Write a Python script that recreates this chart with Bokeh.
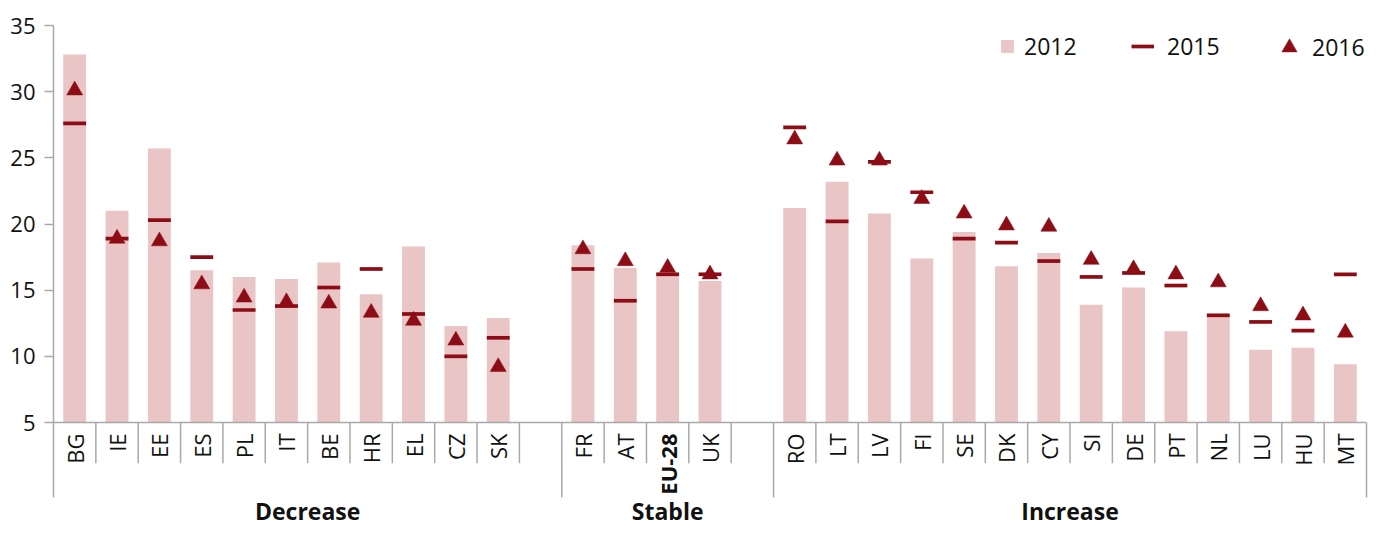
import numpy as np
from bokeh.plotting import figure
from bokeh.models import (ColumnDataSource, FactorRange, Range1d, LinearAxis, FixedTicker,
                          Legend, LegendItem)
from bokeh.core.properties import value
from bokeh.embed import file_html
from bokeh.resources import INLINE

# ---------------- data ----------------
groups = ["Decrease", "Stable", "Increase"]
decrease = ["BG", "IE", "EE", "ES", "PL", "IT", "BE", "HR", "EL", "CZ", "SK"]
stable = ["FR", "AT", "EU-28", "UK"]
increase = ["RO", "LT", "LV", "FI", "SE", "DK", "CY", "SI", "DE", "PT", "NL", "LU", "HU", "MT"]

v2012 = [32.8, 21.0, 25.7, 16.5, 16.0, 15.85, 17.1, 14.7, 18.3, 12.3, 12.9,
         18.4, 16.7, 16.2, 15.7,
         21.2, 23.2, 20.8, 17.4, 19.4, 16.8, 17.8, 13.9, 15.2, 11.9, 13.1, 10.5, 10.65, 9.4]
v2015 = [27.6, 18.9, 20.3, 17.5, 13.5, 13.8, 15.2, 16.6, 13.2, 10.0, 11.4,
         16.6, 14.2, 16.2, 16.2,
         27.3, 20.2, 24.7, 22.4, 18.9, 18.6, 17.2, 16.0, 16.3, 15.35, 13.1, 12.6, 11.95, 16.2]
v2016 = [30.1, 18.9, 18.7, 15.45, 14.45, 14.1, 14.0, 13.3, 12.7, 11.2, 9.2,
         18.1, 17.2, 16.7, 16.2,
         26.4, 24.8, 24.8, 21.9, 20.8, 19.9, 19.8, 17.3, 16.6, 16.2, 15.6, 13.8, 13.1, 11.8]
y_ticks = [5, 10, 15, 20, 25, 30, 35]
series_labels = ["2012", "2015", "2016"]

# ---------------- styling / layout ----------------
PINK = "#e9c6c5"
RED = "#8c0d16"
GRAY = "#a9a9a9"
TXT = "#111111"
FONT = "Open Sans"

W, H = 1368, 525
TOP, LEFT, RIGHT = 25, 53, 2
PX_PER_UNIT = 397 / 30.0
Y_END = 35
Y_START = Y_END - (H - TOP) / PX_PER_UNIT
BASE = 5

def px(n):
    return n / PX_PER_UNIT

group_members = [decrease + [" "], stable + ["  "], increase]
factors = [f for g in group_members for f in g]
countries = decrease + stable + increase

x_range = FactorRange(factors=factors, range_padding=0, factor_padding=0)
p = figure(width=W, height=H, x_range=x_range, y_range=Range1d(Y_START, Y_END),
           x_axis_location=None, y_axis_location=None,
           output_backend="svg", toolbar_location=None,
           min_border_top=TOP, min_border_left=LEFT, min_border_right=RIGHT,
           min_border_bottom=0, outline_line_color=None, background_fill_color="white")
p.grid.visible = False

BAR_W = 0.54
src = ColumnDataSource(dict(
    country=countries, v2012=v2012, v2015=v2015, v2016=v2016,
    x0=[(c, -BAR_W / 2) for c in countries],
    x1=[(c, BAR_W / 2) for c in countries],
    style=["bold" if c == "EU-28" else "normal" for c in countries],
))

r_bar = p.vbar(x="country", top="v2012", bottom=BASE, width=BAR_W, source=src,
               fill_color=PINK, line_color=None)
r_dash = p.segment(x0="x0", x1="x1", y0="v2015", y1="v2015", source=src,
                   line_color=RED, line_width=3.7)
r_tri = p.scatter(x="country", y="v2016", source=src, marker="triangle", size=16,
                  fill_color=RED, line_color=RED, line_width=0.5)

# horizontal base line
p.segment(x0=[(factors[0], -0.5)], x1=[(factors[-1], 0.5)], y0=[BASE], y1=[BASE],
          line_color=GRAY, line_width=1.5)

# separators between categories (long ones at group boundaries)
LONG = 75
SHORT = 40.7
group_starts = {g[0] for g in group_members}
sx, sy1 = [], []
for f in factors:
    if f == factors[0]:
        continue
    sx.append((f, -0.5))
    sy1.append(BASE - px(LONG) if f in group_starts else BASE - px(SHORT))
p.segment(x0=sx, x1=sx, y0=[BASE] * len(sx), y1=sy1, line_color=GRAY, line_width=1.5)

# country labels (vertical)
p.text(x="country", y=BASE, text="country", source=src, angle=np.pi / 2,
       y_offset=11, text_align="right", text_baseline="middle",
       text_font=value(FONT), text_font_size=value("22px"), text_font_style="style",
       text_color=TXT)

# group labels
gx = [(g[0], -0.5 + len(g) / 2.0) for g in group_members]
p.text(x=gx, y=[BASE - px(88)] * 3, text=groups, text_align="center",
       text_baseline="middle", text_font=value(FONT), text_font_size=value("23px"),
       text_font_style="bold", text_color=TXT)

# y axis (line continues down as the first long separator)
yax = LinearAxis(bounds=(BASE - px(LONG), Y_END), ticker=FixedTicker(ticks=y_ticks),
                 axis_line_color=GRAY, axis_line_width=1.5,
                 major_tick_line_color=GRAY, major_tick_line_width=1.5,
                 major_tick_out=9, major_tick_in=0, minor_tick_line_color=None,
                 major_label_standoff=9, major_label_text_font=FONT,
                 major_label_text_font_size="22px", major_label_text_color=TXT)
p.add_layout(yax, "left")

# right closing line of the category axis
rax = LinearAxis(bounds=(BASE - px(LONG), BASE), ticker=FixedTicker(ticks=[]),
                 axis_line_color=GRAY, axis_line_width=1.5,
                 major_tick_line_color=None, minor_tick_line_color=None,
                 major_label_text_font_size="0px", major_label_standoff=0)
p.add_layout(rax, "right")

# legends
frame_h = H - TOP
def add_legend(label, r, gw, gh, standoff, left_px, center_y_px, row_h):
    lg = Legend(items=[LegendItem(label=label, renderers=[r])],
                location=(left_px - LEFT, frame_h - (center_y_px - TOP) - row_h / 2),
                orientation="horizontal", glyph_width=gw, glyph_height=gh,
                label_standoff=standoff, padding=0, margin=0, spacing=0,
                border_line_color=None, background_fill_alpha=0,
                label_text_font=FONT, label_text_font_size="23px",
                label_text_color=TXT)
    p.add_layout(lg)

add_legend(series_labels[0], r_bar, 16, 16, 9, 999, 47, 30)
add_legend(series_labels[1], r_dash, 23, 16, 13, 1131, 47, 30)
add_legend(series_labels[2], r_tri, 38, 38, 4, 1270, 47, 38)

open("out.html", "w").write(file_html(p, INLINE))
